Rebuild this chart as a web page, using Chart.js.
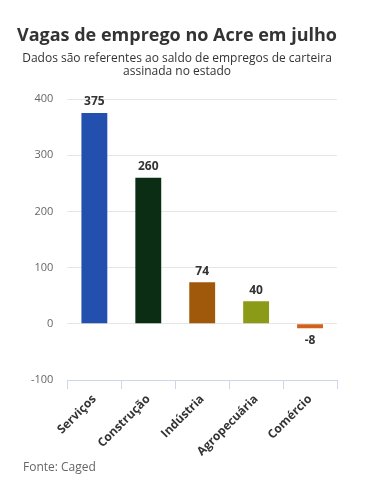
<!DOCTYPE html>
<html>
<head>
<meta charset="utf-8">
<script src="https://cdn.jsdelivr.net/npm/chart.js@4"></script>
<style>
  html, body { margin: 0; padding: 0; background: #fff; }
  #wrap { position: relative; width: 368px; height: 500px; }
</style>
</head>
<body>
<div id="wrap"><canvas id="chart" width="368" height="500"></canvas></div>
<script>
// data
const categories = ['Serviços', 'Construção', 'Indústria', 'Agropecuária', 'Comércio'];
const saldo = [375, 260, 74, 40, -8];
const barColors = ['#234fae', '#0b2d13', '#a0590b', '#8b9b17', '#d0621c'];
const yTicks = [-100, 0, 100, 200, 300, 400];

const FONT = '"Open Sans", "Noto Sans", sans-serif';

// value labels above / below each bar
const valueLabels = {
  id: 'valueLabels',
  afterDatasetsDraw(chart) {
    const ctx = chart.ctx;
    const meta = chart.getDatasetMeta(0);
    ctx.save();
    ctx.font = 'bold 12px ' + FONT;
    ctx.fillStyle = '#333';
    ctx.textAlign = 'center';
    meta.data.forEach((bar, i) => {
      const v = saldo[i];
      if (v >= 0) {
        ctx.textBaseline = 'bottom';
        ctx.fillText(v, bar.x, bar.y - 5);
      } else {
        ctx.textBaseline = 'top';
        ctx.fillText(v, bar.x, bar.y + 6);
      }
    });
    ctx.restore();
  }
};

// source note
const footer = {
  id: 'footer',
  afterDraw(chart) {
    const ctx = chart.ctx;
    ctx.save();
    ctx.font = '12px ' + FONT;
    ctx.fillStyle = '#666';
    ctx.textAlign = 'left';
    ctx.textBaseline = 'middle';
    ctx.fillText('Fonte: Caged', 23, 468);
    ctx.restore();
  }
};

const chart = new Chart(document.getElementById('chart'), {
  type: 'bar',
  data: {
    labels: categories,
    datasets: [{
      data: saldo,
      backgroundColor: barColors,
      borderWidth: 0,
      barPercentage: 0.48,
      categoryPercentage: 1
    }]
  },
  options: {
    responsive: false,
    animation: false,
    layout: { padding: { left: 17, right: 31, top: 0, bottom: 38 } },
    plugins: {
      legend: { display: false },
      tooltip: { enabled: false },
      title: {
        display: true,
        text: 'Vagas de emprego no Acre em julho',
        color: '#333',
        font: { family: FONT, size: 18, weight: 'bold' },
        padding: { top: 25, bottom: 5 }
      },
      subtitle: {
        display: true,
        text: ['Dados são referentes ao saldo de empregos de carteira', 'assinada no estado'],
        color: '#333',
        font: { family: FONT, size: 12, lineHeight: 1.1 },
        padding: { top: 0, bottom: 21 }
      }
    },
    scales: {
      x: {
        grid: { drawOnChartArea: false, color: '#ccd6eb', tickLength: 9 },
        border: { color: '#ccd6eb' },
        ticks: {
          color: '#333',
          font: { family: FONT, size: 12, weight: 'bold' },
          maxRotation: 45,
          minRotation: 45
        }
      },
      y: {
        min: -100,
        max: 400,
        afterBuildTicks(axis) { axis.ticks = yTicks.map(v => ({ value: v })); },
        grid: { color: '#e6e6e6', drawTicks: false },
        border: { display: false },
        ticks: {
          color: '#666',
          padding: 14,
          font: { family: FONT, size: 11 }
        }
      }
    }
  },
  plugins: [valueLabels, footer]
});
</script>
</body>
</html>
